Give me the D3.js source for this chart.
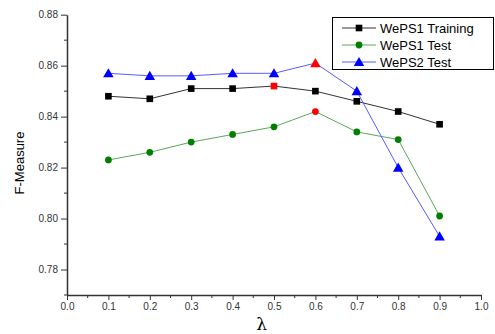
<!DOCTYPE html>
<html>
<head>
<meta charset="utf-8">
<script src="https://cdn.jsdelivr.net/npm/d3@7"></script>
<style>
  body { margin: 0; background: #fff; }
  text { font-family: Arial, "Liberation Sans", sans-serif; }
</style>
</head>
<body>
<svg id="chart"></svg>
<script>
const width = 495
const height = 334
const margins = { top: 14.7, bottom: 39, left: 67, right: 14 }

const lambdas = [0.1, 0.2, 0.3, 0.4, 0.5, 0.6, 0.7, 0.8, 0.9]
const weps1Training = [0.848, 0.847, 0.851, 0.851, 0.852, 0.850, 0.846, 0.842, 0.837]
const weps1Test = [0.823, 0.826, 0.830, 0.833, 0.836, 0.842, 0.834, 0.831, 0.801]
const weps2Test = [0.857, 0.856, 0.856, 0.857, 0.857, 0.861, 0.850, 0.820, 0.793]
// index of the highlighted (best) point in each series
const bestIndex = [4, 5, 5]
const seriesNames = ["WePS1 Training", "WePS1 Test", "WePS2 Test"]
const xTicks = [0.0, 0.1, 0.2, 0.3, 0.4, 0.5, 0.6, 0.7, 0.8, 0.9, 1.0]
const yTicks = [0.78, 0.80, 0.82, 0.84, 0.86, 0.88]

const series = [
  { name: seriesNames[0], values: weps1Training, line: "#333", fill: "#000", shape: "square", best: bestIndex[0] },
  { name: seriesNames[1], values: weps1Test, line: "#5aa85a", fill: "#008000", shape: "circle", best: bestIndex[1] },
  { name: seriesNames[2], values: weps2Test, line: "#5a5aff", fill: "#0000ff", shape: "triangle", best: bestIndex[2] },
]

const svg = d3.select("#chart").attr("width", width).attr("height", height)

const x = d3.scaleLinear([0, 1], [margins.left, width - margins.right])
const y = d3.scaleLinear([0.77, 0.88], [height - margins.bottom, margins.top])

// axes
const xAxis = svg.append("g").attr("transform", `translate(0,${y(0.77)})`)
xAxis.call(d3.axisBottom(x).tickValues(xTicks).tickFormat(d3.format(".1f")).tickSize(5).tickSizeOuter(0))
xAxis.append("g").selectAll("line").data(d3.range(0.05, 1, 0.1)).join("line")
  .attr("x1", d => x(d)).attr("x2", d => x(d)).attr("y1", 0).attr("y2", 3)
  .attr("stroke", "#333")

const yAxis = svg.append("g").attr("transform", `translate(${x(0)},0)`)
yAxis.call(d3.axisLeft(y).tickValues(yTicks).tickFormat(d3.format(".2f")).tickSize(6).tickSizeOuter(0))
yAxis.append("g").selectAll("line").data(d3.range(0.77, 0.875, 0.02)).join("line")
  .attr("y1", d => y(d)).attr("y2", d => y(d)).attr("x1", 0).attr("x2", -3)
  .attr("stroke", "#333")

svg.selectAll(".domain").attr("stroke", "#333").attr("stroke-width", 1.5)
svg.selectAll(".tick line").attr("stroke", "#333")
svg.selectAll(".tick text").style("font-size", "10px").attr("fill", "#333")

svg.append("text")
  .attr("transform", `translate(24,163) rotate(-90)`)
  .attr("text-anchor", "middle")
  .style("font-size", "13px")
  .text("F-Measure")

svg.append("text")
  .attr("x", x(0.47)).attr("y", 330)
  .attr("text-anchor", "middle")
  .style("font-size", "17px")
  .style("font-family", "'DejaVu Serif', serif")
  .text("λ")

const symbols = { square: d3.symbolSquare, circle: d3.symbolCircle, triangle: d3.symbolTriangle }
const symbolSize = { square: 44, circle: 36, triangle: 48 }

let drawMarker = (g, shape, px, py, color) => {
  g.append("path")
    .attr("d", d3.symbol(symbols[shape], symbolSize[shape])())
    .attr("transform", `translate(${px},${py + (shape === "triangle" ? 1 : 0)})`)
    .attr("fill", color)
}

const line = d3.line().x((d, i) => x(lambdas[i])).y(d => y(d))

series.forEach(s => {
  svg.append("path")
    .attr("d", line(s.values))
    .attr("fill", "none")
    .attr("stroke", s.line)
    .attr("stroke-width", 1)
})
series.forEach(s => {
  const g = svg.append("g")
  s.values.forEach((v, i) => {
    drawMarker(g, s.shape, x(lambdas[i]), y(v), i === s.best ? "#ff0000" : s.fill)
  })
})

// legend
const legend = svg.append("g")
legend.append("rect")
  .attr("x", 332.5).attr("y", 17.5).attr("width", 161).attr("height", 52)
  .attr("fill", "#fff").attr("stroke", "#000").attr("stroke-width", 1)
series.forEach((s, i) => {
  const ly = 28 + i * 17
  legend.append("line")
    .attr("x1", 342).attr("x2", 376).attr("y1", ly).attr("y2", ly)
    .attr("stroke", s.line)
  drawMarker(legend, s.shape, 359, ly, s.fill)
  legend.append("text")
    .attr("x", 380).attr("y", ly + 4.5)
    .style("font-size", "13px")
    .text(s.name)
})
</script>
</body>
</html>
